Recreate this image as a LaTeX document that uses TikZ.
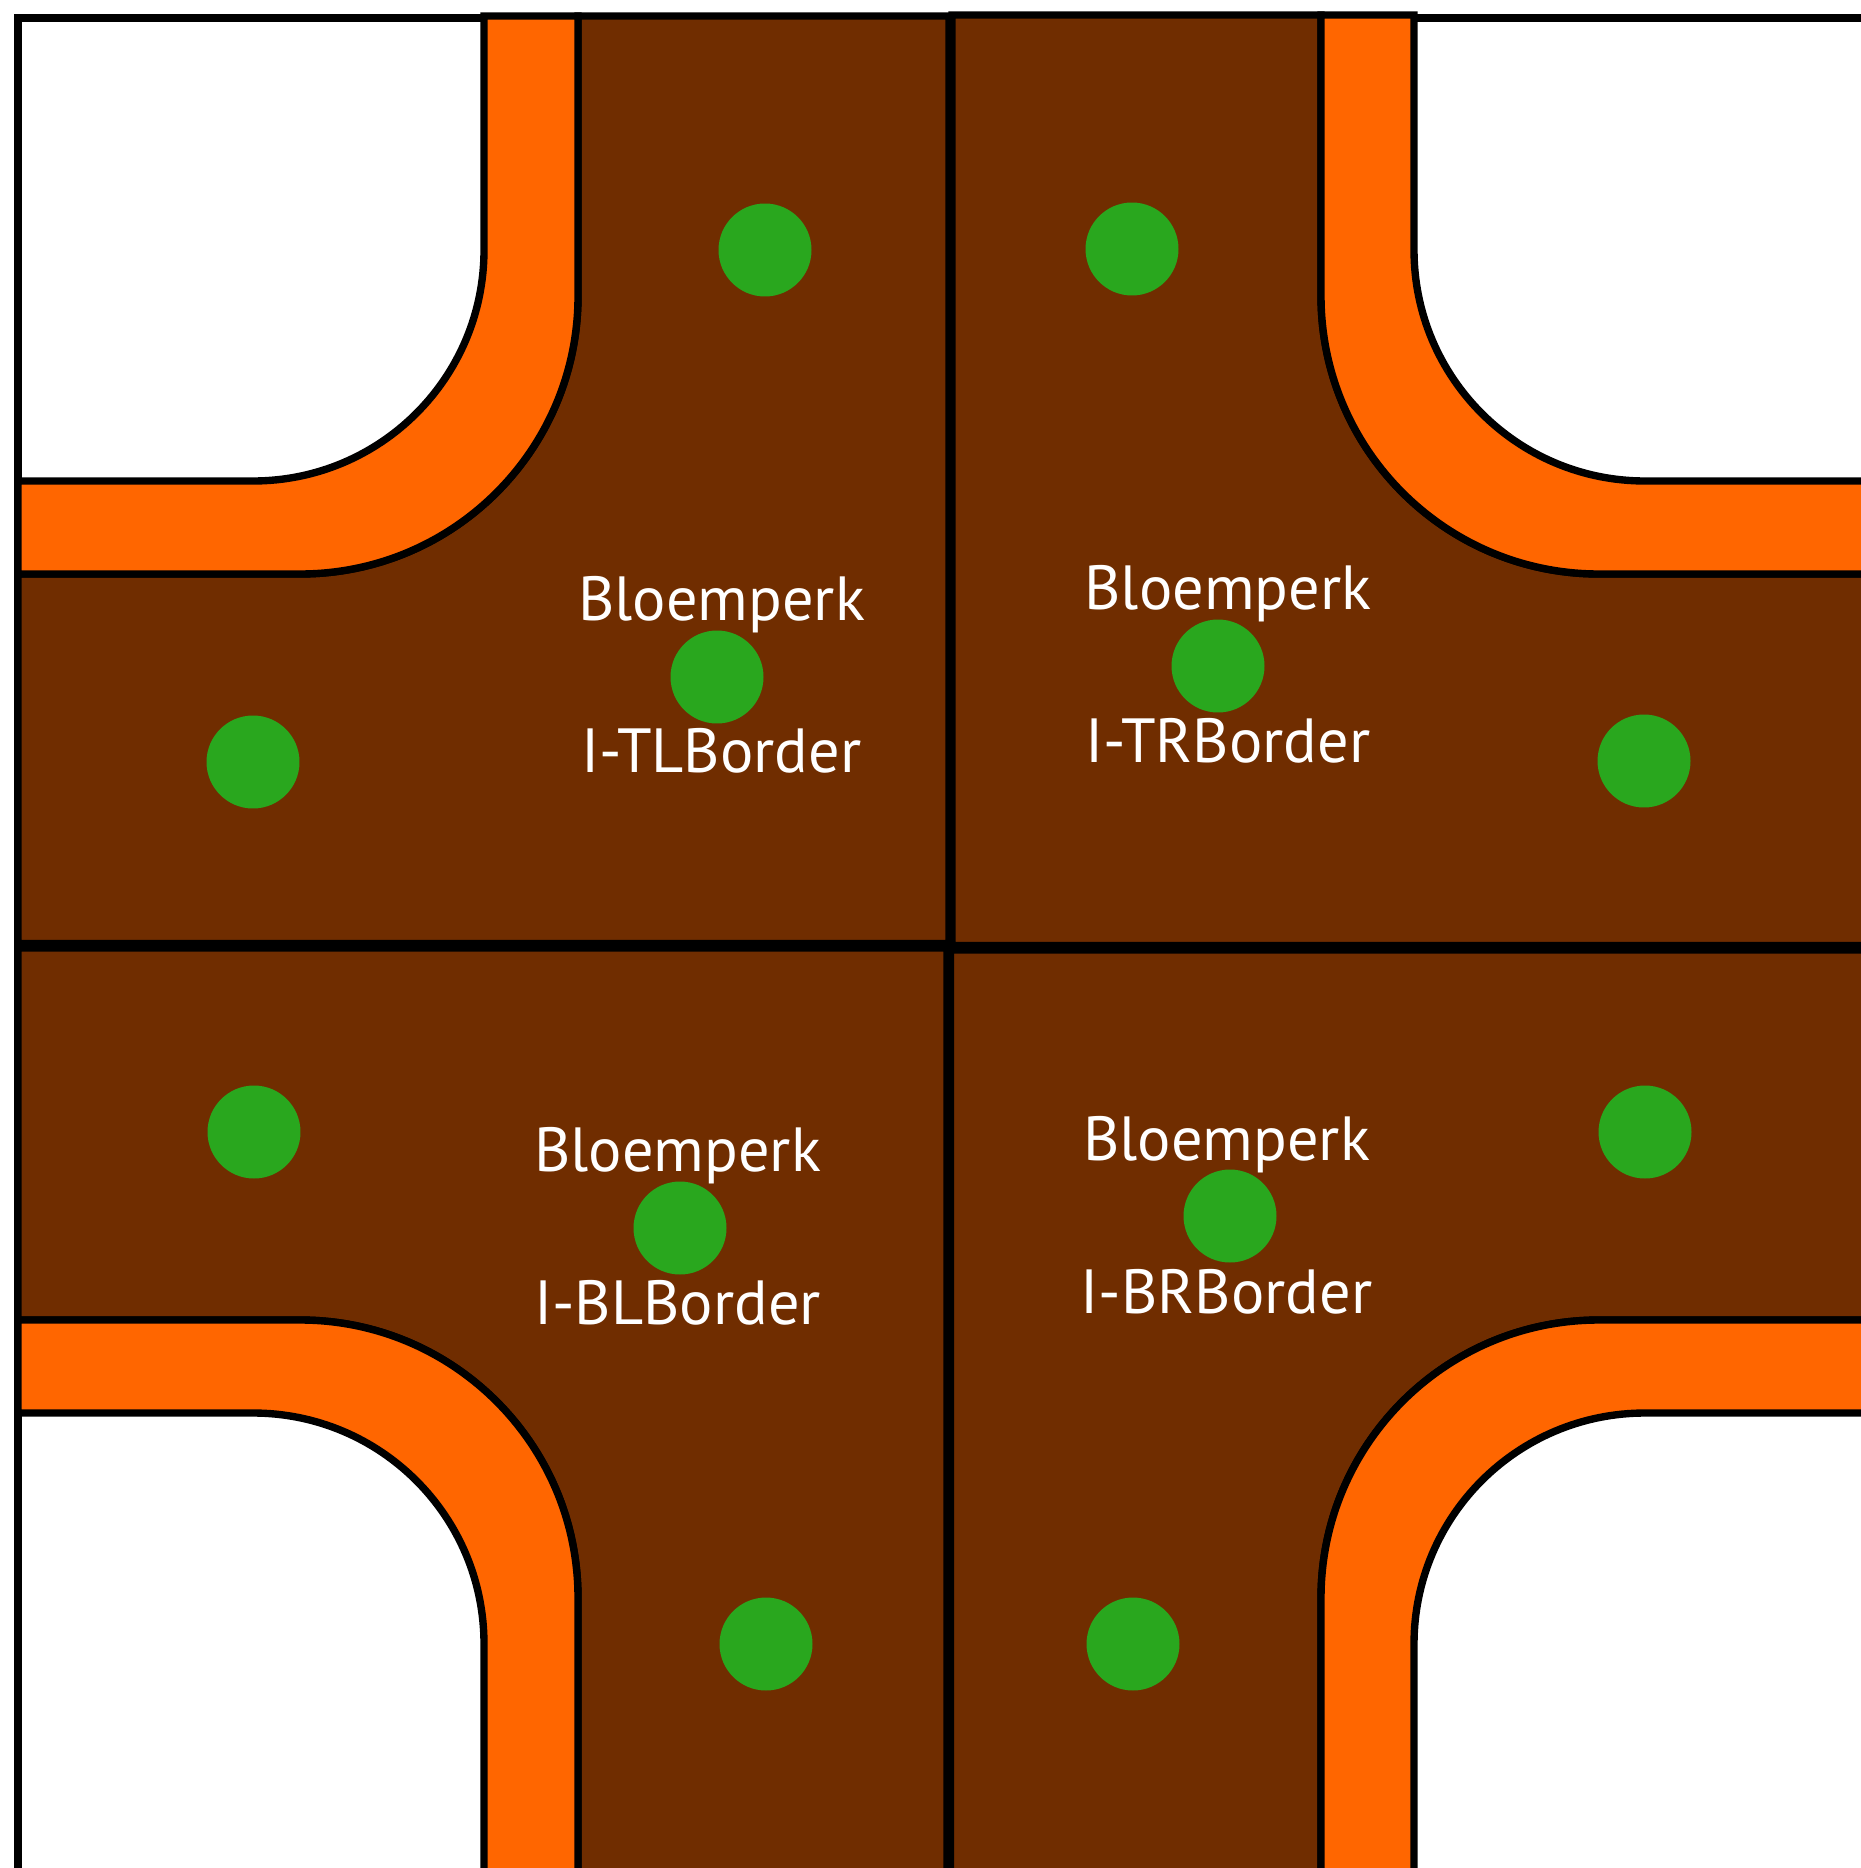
\documentclass[tikz,border=0pt]{standalone}
\usepackage{fontspec}
\setmainfont{PT Sans}
\definecolor{soil}{RGB}{112,45,0}
\definecolor{curb}{RGB}{255,102,0}
\definecolor{plant}{RGB}{41,167,30}
\begin{document}
\begin{tikzpicture}[x=0.02cm,y=-0.02cm,line width=4.2pt,line join=miter,
  quad/.style={draw=black,fill=soil},
  band/.style={draw=black,fill=curb},
  frame/.style={draw=black,fill=white},
  tree/.style={circle,fill=plant,draw=none,minimum size=1.86cm,inner sep=0pt},
  lbl/.style={text=white,anchor=base,inner sep=0pt,font=\fontsize{35.5pt}{40pt}\selectfont}]
\useasboundingbox (0,0) rectangle (1861,1868);
\clip (0,0) rectangle (1861,1868);
% outer frame
\draw[frame] (18,18) rectangle (1900,1910);
% top-left quadrant
\draw[quad] (578,16) -- (949,16) -- (949,943.5) -- (18,943.5) -- (18,574) -- (300,574)
  .. controls (453.5,574) and (578,449.5) .. (578,296) -- cycle;
\draw[band] (484,16) -- (578,16) -- (578,296)
  .. controls (578,449.5) and (453.5,574) .. (300,574) -- (18,574) -- (18,481) -- (253,481)
  .. controls (380.6,481) and (484,377.6) .. (484,250) -- cycle;
% top-right quadrant
\draw[quad] (952,15) -- (1321,15) -- (1321,296)
  .. controls (1321,449.5) and (1445.5,574) .. (1599,574) -- (1900,574) -- (1900,945.5) -- (952,945.5) -- cycle;
\draw[band] (1321,15) -- (1414,15) -- (1414,250)
  .. controls (1414,377.6) and (1517.4,481) .. (1645,481) -- (1900,481) -- (1900,574) -- (1599,574)
  .. controls (1445.5,574) and (1321,449.5) .. (1321,296) -- cycle;
% bottom-left quadrant
\draw[quad] (18,948) -- (947,948) -- (947,1910) -- (578,1910) -- (578,1598)
  .. controls (578,1444.5) and (453.5,1320) .. (300,1320) -- (18,1320) -- cycle;
\draw[band] (18,1320) -- (300,1320)
  .. controls (453.5,1320) and (578,1444.5) .. (578,1598) -- (578,1910) -- (484,1910) -- (484,1644)
  .. controls (484,1516.4) and (380.6,1413) .. (253,1413) -- (18,1413) -- cycle;
% bottom-right quadrant
\draw[quad] (950.5,950) -- (1900,950) -- (1900,1320) -- (1599,1320)
  .. controls (1445.5,1320) and (1321,1444.5) .. (1321,1598) -- (1321,1910) -- (950.5,1910) -- cycle;
\draw[band] (1900,1320) -- (1599,1320)
  .. controls (1445.5,1320) and (1321,1444.5) .. (1321,1598) -- (1321,1910) -- (1414,1910) -- (1414,1644)
  .. controls (1414,1516.4) and (1517.4,1413) .. (1645,1413) -- (1900,1413) -- cycle;
% plants
\node[tree] (p1) at (765,250) {};
\node[tree] (p2) at (1132,249) {};
\node[tree] (p3) at (253,762) {};
\node[tree] (p4) at (717,677) {};
\node[tree] (p5) at (1218,666) {};
\node[tree] (p6) at (1644,761) {};
\node[tree] (p7) at (254,1132) {};
\node[tree] (p8) at (680,1228) {};
\node[tree] (p9) at (1230,1216) {};
\node[tree] (p10) at (1645,1132) {};
\node[tree] (p11) at (766,1644) {};
\node[tree] (p12) at (1133,1644) {};
% labels
\node[lbl] (a1) at (721.5,620.7) {Bloemperk};
\node[lbl] (b1) at (721.5,772.7) {I-TLBorder};
\node[lbl] (a2) at (1228,609.3) {Bloemperk};
\node[lbl] (b2) at (1228,762.7) {I-TRBorder};
\node[lbl] (a3) at (677.5,1171) {Bloemperk};
\node[lbl] (b3) at (677.5,1324) {I-BLBorder};
\node[lbl] (a4) at (1226.5,1160) {Bloemperk};
\node[lbl] (b4) at (1226.5,1313) {I-BRBorder};
\end{tikzpicture}
\end{document}
